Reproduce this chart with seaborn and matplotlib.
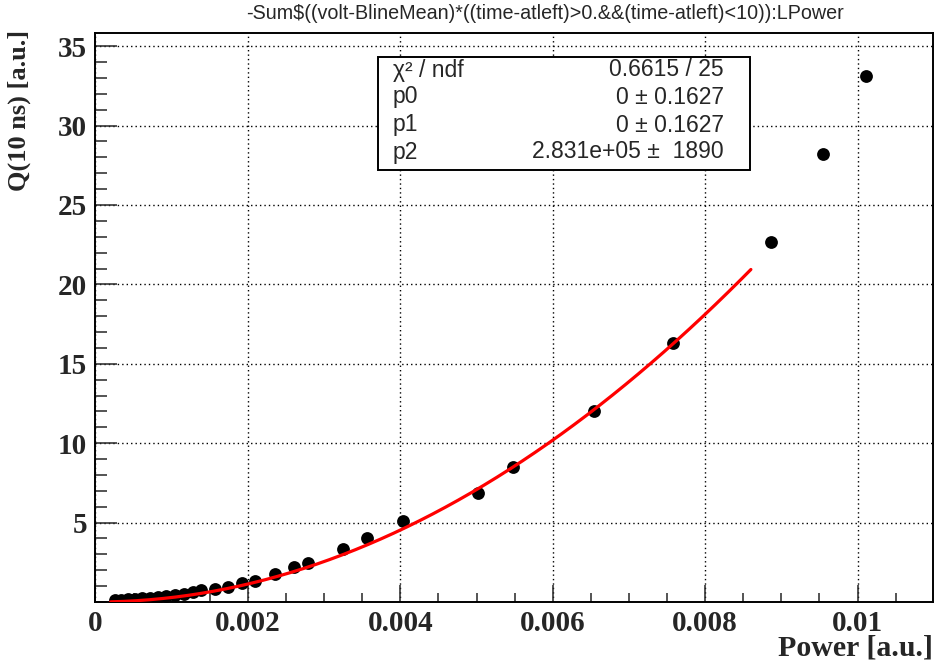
import numpy as np
import pandas as pd
import matplotlib
matplotlib.use("Agg")
import matplotlib.pyplot as plt
from matplotlib.patches import Rectangle
from matplotlib.ticker import MultipleLocator, FixedLocator
from matplotlib.font_manager import FontProperties
import seaborn as sns

# Measured charge in a 10 ns window versus laser power
power = [0.000256, 0.000335, 0.000427, 0.000518, 0.000610, 0.000715, 0.000820,
         0.000925, 0.00104, 0.00116, 0.00128, 0.00139, 0.00157, 0.00174,
         0.00192, 0.00209, 0.00236, 0.00261, 0.00279, 0.00325, 0.00356,
         0.00403, 0.00502, 0.00548, 0.00654, 0.00758, 0.00886, 0.00955, 0.01011]
charge = [0.10, 0.12, 0.17, 0.20, 0.24, 0.28, 0.32,
          0.38, 0.44, 0.50, 0.60, 0.75, 0.80, 0.96,
          1.18, 1.34, 1.76, 2.22, 2.47, 3.34, 4.03,
          5.12, 6.85, 8.52, 12.05, 16.3, 22.69, 28.19, 33.15]

# Quadratic fit pol2: p0 + p1*x + p2*x^2
fit_range = [0.0002, 0.0086]
p0, p0_err = 0.0, 0.1627
p1, p1_err = 0.0, 0.1627
p2, p2_err = 2.831e5, 1890
chi2, ndf = 0.6615, 25

x_ticks = [0, 0.002, 0.004, 0.006, 0.008, 0.01]
x_tick_labels = ["0", "0.002", "0.004", "0.006", "0.008", "0.01"]
y_ticks = [5, 10, 15, 20, 25, 30, 35]

title = "-Sum$((volt-BlineMean)*((time-atleft)>0.&&(time-atleft)<10)):LPower"

sns.set_style("ticks")
serif_bold = dict(family=["Liberation Serif", "DejaVu Serif"], weight="bold")
sans = ["Liberation Sans", "DejaVu Sans"]
narrow = ["Liberation Sans Narrow", "Liberation Sans", "DejaVu Sans"]

fig = plt.figure(figsize=(9.35, 6.68), dpi=100)
ax = fig.add_axes([0.1021, 0.0988, 0.8958, 0.8518])

pts = pd.DataFrame({"power": power, "charge": charge})
xf = np.linspace(fit_range[0], fit_range[1], 200)
fit = pd.DataFrame({"power": xf, "charge": p0 + p1 * xf + p2 * xf ** 2})

sns.scatterplot(data=pts, x="power", y="charge", ax=ax, color="black",
                s=85, linewidth=0, marker="o", zorder=3)
sns.lineplot(data=fit, x="power", y="charge", ax=ax, color="#ff0000",
             linewidth=2.3, zorder=4)

ax.set_xlim(0, 0.01099)
ax.set_ylim(0, 35.83)
ax.xaxis.set_major_locator(FixedLocator(x_ticks))
ax.set_xticklabels(x_tick_labels)
ax.xaxis.set_minor_locator(MultipleLocator(0.0005))
ax.yaxis.set_major_locator(FixedLocator(y_ticks))
ax.yaxis.set_minor_locator(MultipleLocator(1))

ax.grid(True, which="major", color="black", linestyle=(0, (1, 2.2)), linewidth=1.0)
for s in ax.spines.values():
    s.set_linewidth(1.4)
    s.set_color("black")

ax.tick_params(axis="x", which="major", direction="in", length=12, width=1.1,
               pad=5.5, top=False)
ax.tick_params(axis="x", which="minor", direction="in", length=6.5, width=1.1, top=False)
ax.tick_params(axis="y", which="major", direction="in", length=15.5, width=1.1,
               pad=6, right=False)
ax.tick_params(axis="y", which="minor", direction="in", length=8.5, width=1.1, right=False)
for lab in ax.get_xticklabels() + ax.get_yticklabels():
    lab.set_fontproperties(FontProperties(size=21, **serif_bold))

ax.set_xlabel("")
ax.set_ylabel("")
fig.text(0.998, 0.018, "Power [a.u.]", ha="right", va="baseline", fontsize=21.5, **serif_bold)
fig.text(0.021, 0.955, "Q(10 ns) [a.u.]", ha="center", va="top", rotation=90,
         fontsize=19, **serif_bold)

fig.text(0.583, 0.980, title, ha="center", va="center", fontsize=14.2, family=narrow)

# Fit statistics box
bx0, bx1 = 378 / 935, 750 / 935
by0, by1 = 1 - 170 / 668, 1 - 57 / 668
fig.patches.append(Rectangle((bx0, by0), bx1 - bx0, by1 - by0, transform=fig.transFigure,
                             facecolor="white", edgecolor="black", linewidth=1.4, zorder=5))
rows = [
    ("χ² / ndf", f"{chi2:g} / {ndf}"),
    ("p0", f"{p0:g} ± {p0_err:g}"),
    ("p1", f"{p1:g} ± {p1_err:g}"),
    ("p2", f"{p2:.3e} ±  {p2_err:g}"),
]
row_y = [70, 97, 125, 152]
for (left, right), yy in zip(rows, row_y):
    fy = 1 - yy / 668
    fig.text(393 / 935, fy, left, ha="left", va="center", fontsize=16.5, family=sans, zorder=6)
    fig.text(724 / 935, fy, right, ha="right", va="center", fontsize=16.5, family=sans, zorder=6)

fig.savefig("out.png", dpi=100)
